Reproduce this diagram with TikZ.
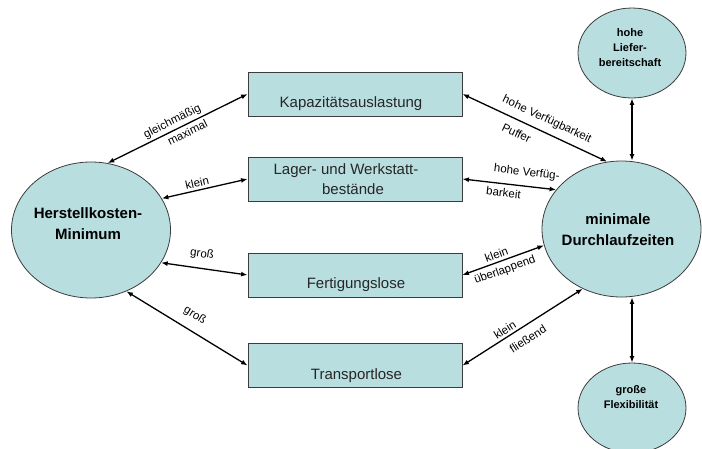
\documentclass[tikz,border=0pt]{standalone}
\usepackage{fontspec}
\setmainfont{Liberation Sans}
\usetikzlibrary{shapes.geometric,arrows.meta}
\definecolor{tealfill}{RGB}{185,222,224}
\definecolor{edgegray}{RGB}{60,60,60}
\begin{document}
\begin{tikzpicture}[x=1pt,y=-1pt,
  bubble/.style={ellipse, draw=edgegray, line width=0.8pt, fill=tealfill, inner sep=0pt},
  box/.style={rectangle, draw=edgegray, line width=0.9pt, fill=tealfill, minimum width=214pt, minimum height=44pt, inner sep=0pt},
  boxlab/.style={font=\fontsize{15}{20}\selectfont, text=black!85, align=center, inner sep=0pt},
  bigtxt/.style={font=\bfseries\fontsize{15}{21}\selectfont, align=center, inner sep=0pt},
  smalltxt/.style={font=\bfseries\fontsize{11}{15}\selectfont, align=center, inner sep=0pt},
  lab/.style={font=\fontsize{11.5}{13}\selectfont, inner sep=1pt, sloped},
  conn/.style={{Latex[length=6.5pt,width=5pt]}-{Latex[length=6.5pt,width=5pt]}, line width=1.3pt}
]
\useasboundingbox (0,0) rectangle (702,448);

% ellipses
\node[bubble, minimum width=159pt, minimum height=136pt] (L) at (91,230) {};
\node[bubble, minimum width=159pt, minimum height=136pt] (R) at (621.5,229) {};
\node[bubble, minimum width=108pt, minimum height=90pt] (T) at (632,53) {};
\node[bubble, minimum width=108pt, minimum height=90pt] (B) at (632,408) {};

\node[bigtxt] at ([xshift=-3pt,yshift=6.7pt]L.center) {Herstellkosten-\\Minimum};
\node[bigtxt] at ([xshift=-3.5pt,yshift=-1pt]R.center) {minimale\\Durchlaufzeiten};
\node[smalltxt] at ([xshift=-2pt,yshift=5.8pt]T.center) {hohe\\Liefer-\\bereitschaft};
\node[smalltxt] at ([xshift=-1pt,yshift=11.2pt]B.center) {große\\Flexibilität};

% boxes
\node[box, label={[boxlab, xshift=-4pt, yshift=-9.4pt]center:Kapazitätsauslastung}] (K) at (355,94) {};
\node[box, label={[boxlab, xshift=-9pt, yshift=-0.4pt]center:Lager- und Werkstatt-\\\hspace*{14pt}bestände}] (La) at (355,179) {};
\node[box, label={[boxlab, xshift=1pt, yshift=-9.4pt]center:Fertigungslose}] (F) at (355,275) {};
\node[box, label={[boxlab, xshift=1.5pt, yshift=-10pt]center:Transportlose}] (Tr) at (355,365.5) {};

% left connectors
\draw[conn] (L.76) -- (K.west)
  node[lab, above=1.5pt, pos=0.49] {gleichmäßig}
  node[lab, below=2pt, pos=0.545] {maximal};
\draw[conn] (L.24) -- (La.west)
  node[lab, above=1.5pt, pos=0.43] {klein};
\draw[conn] (L.-25) -- (F.west)
  node[lab, above=7pt, pos=0.45] {groß};
\draw[conn] (L.-60) -- (Tr.west)
  node[lab, above=8pt, pos=0.5] {groß};

% right connectors
\draw[conn] (K.east) -- (R.102)
  node[lab, above=5.5pt, pos=0.547] {hohe Verfügbarkeit}
  node[lab, below=6.5pt, pos=0.41] {Puffer};
\draw[conn] (La.east) -- (R.149)
  node[lab, above=6.5pt, pos=0.67] {hohe Verfüg-}
  node[lab, below=3pt, pos=0.45] {barkeit};
\draw[conn] (F.east) -- (R.192)
  node[lab, above=2pt, pos=0.45] {klein}
  node[lab, below=3pt, pos=0.48] {überlappend};
\draw[conn] (Tr.east) -- (R.237)
  node[lab, above=1.5pt, pos=0.385] {klein}
  node[lab, below=7pt, pos=0.487] {fließend};

% vertical connectors
\draw[conn] (T.south) -- (T.south |- R.north);
\draw[conn] (B.north |- R.south) -- (B.north);
\end{tikzpicture}
\end{document}
